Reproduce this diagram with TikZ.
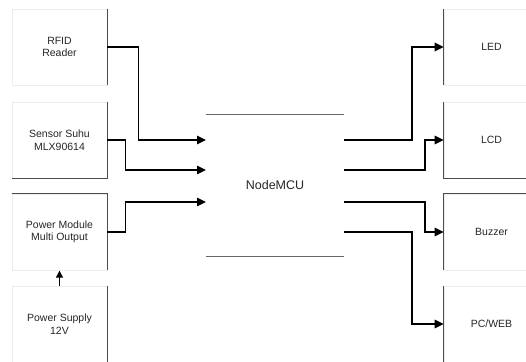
\documentclass[tikz,border=0pt]{standalone}
\usepackage{fontspec}
\setmainfont{Liberation Sans}
\usetikzlibrary{arrows.meta}
\begin{document}
\begin{tikzpicture}[x=1pt,y=-1pt,
  box/.style={draw=black!7,line width=0.6pt,minimum width=95pt,minimum height=76pt,inner sep=0pt,
    align=center,font=\fontsize{10.5}{12.5}\selectfont,text=black!85},
  edge/.style={draw=black!70,line width=0.8pt},
  wire/.style={draw=black,line width=1.3pt,-{Triangle[length=9pt,width=8.5pt]}},
  smallwire/.style={draw=black,line width=1.3pt,-{Triangle[length=7pt,width=7pt]}},
  mculine/.style={draw=black!60,line width=0.8pt}]
\useasboundingbox (0,0) rectangle (526,361);
% left column
\node[box] (rfid) at (59.5,47) {RFID\\Reader};
\node[box] (sensor) at (59.5,140) {Sensor Suhu\\MLX90614};
\node[box] (pm) at (59.5,232) {Power Module\\Multi Output};
\node[box] (ps) at (59.5,324) {Power Supply\\12V};
% right column
\node[box] (led) at (491.5,47) {LED};
\node[box] (lcd) at (491.5,140) {LCD};
\node[box] (buzzer) at (491.5,232) {Buzzer};
\node[box] (pc) at (491.5,324) {PC/WEB};
% NodeMCU
\node[minimum width=138pt,minimum height=141pt,inner sep=0pt,font=\fontsize{12.5}{15}\selectfont,text=black!85] (mcu) at (275,185.5) {NodeMCU};
\draw[mculine] (mcu.north west) -- (mcu.north east);
\draw[mculine] (mcu.south west) -- (mcu.south east);
\coordinate (in1) at (206,140);
\coordinate (in2) at (206,170);
\coordinate (in3) at (206,202);
\coordinate (out1) at (344,140);
\coordinate (out2) at (344,170);
\coordinate (out3) at (344,202);
\coordinate (out4) at (344,232);
% dark box edges
\draw[edge] (rfid.north east) -- (rfid.south east);
\draw[edge] (sensor.north east) -- (sensor.south east) -- (sensor.south west);
\draw[edge] (pm.north west) -- (pm.north east) -- (pm.south east);
\draw[edge] (ps.north east) -- (ps.south east);
\draw[edge] (led.north west) -- (led.south west);
\draw[edge] (lcd.north west) -- (lcd.south west) -- (lcd.south east);
\draw[edge] (buzzer.south west) -- (buzzer.north west) -- (buzzer.north east);
\draw[edge] (pc.north west) -- (pc.south west);
% inputs
\draw[wire] (rfid.east) -- ++(31,0) |- (in1);
\draw[wire] (sensor.east) -- ++(18,0) |- (in2);
\draw[wire] (pm.east) -- ++(18,0) |- (in3);
\draw[smallwire] (ps.north) -- ++(0,-15);
% outputs
\draw[wire] (out1) -- ++(68,0) |- (led.west);
\draw[wire] (out2) -- ++(81,0) |- (lcd.west);
\draw[wire] (out3) -- ++(81,0) |- (buzzer.west);
\draw[wire] (out4) -- ++(68,0) |- (pc.west);
\end{tikzpicture}
\end{document}
